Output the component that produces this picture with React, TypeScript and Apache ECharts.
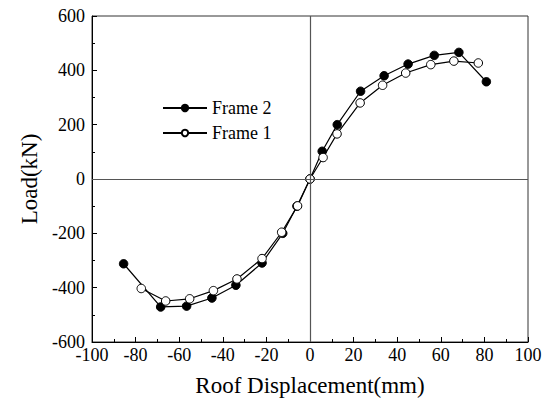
import React, { useEffect, useRef } from "react";
import * as echarts from "echarts";

// Roof displacement (mm) vs. load (kN) for the two frames
const frame2Disp = [-85.5, -68.5, -56.6, -45, -34, -22, -12.5, -6, 0, 5.6, 12.5, 23.2, 34, 45, 57, 68.3, 80.9];
const frame2Load = [-312, -471, -468, -438, -391, -309, -200, -100, 0, 102, 200, 323, 380, 423, 455, 466, 358];

const frame1Disp = [-77.4, -66.2, -55.2, -44.3, -33.5, -22, -13, -5.7, 0, 6, 12.4, 23, 33.3, 43.9, 55.4, 66, 77.2];
const frame1Load = [-403, -449, -441, -411, -368, -293, -196, -99, 0, 79, 166, 280, 345, 390, 421, 434, 427];

const xTicks = { min: -100, max: 100, interval: 20 };
const yTicks = { min: -600, max: 600, interval: 200 };

const FONT = "Liberation Serif";

const pairs = (xs: number[], ys: number[]) => xs.map((x, i) => [x, ys[i]]);

export default function App() {
  const ref = useRef<HTMLDivElement>(null);

  useEffect(() => {
    if (!ref.current) return;
    const chart = echarts.init(ref.current, undefined, { renderer: "svg" });
    chart.setOption({
      animation: false,
      backgroundColor: "#fff",
      textStyle: { fontFamily: FONT },
      grid: {
        left: 92,
        right: 23,
        top: 16,
        bottom: 60,
        outerBoundsMode: "none",
        show: true,
        borderColor: "#333",
        borderWidth: 1,
      },
      legend: {
        orient: "vertical",
        left: 157,
        top: 94,
        itemWidth: 44,
        itemHeight: 8,
        itemGap: 7,
        textStyle: { color: "#000", fontFamily: FONT, fontSize: 18 },
        data: ["Frame 2", "Frame 1"],
      },
      xAxis: {
        type: "value",
        min: xTicks.min,
        max: xTicks.max,
        interval: xTicks.interval,
        axisLine: { show: true, onZero: false, lineStyle: { color: "#000", width: 1 } },
        axisTick: { show: true, inside: true, length: 5, lineStyle: { color: "#000" } },
        minorTick: { show: true, splitNumber: 2, length: 3, lineStyle: { color: "#000" } },
        splitLine: { show: false },
        axisLabel: { color: "#000", fontFamily: FONT, fontSize: 18, margin: 4 },
        name: "Roof Displacement(mm)",
        nameLocation: "middle",
        nameGap: 32,
        nameTextStyle: { color: "#000", fontFamily: FONT, fontSize: 23 },
      },
      yAxis: {
        type: "value",
        min: yTicks.min,
        max: yTicks.max,
        interval: yTicks.interval,
        axisLine: { show: true, onZero: false, lineStyle: { color: "#000", width: 1 } },
        axisTick: { show: true, inside: true, length: 5, lineStyle: { color: "#000" } },
        minorTick: { show: true, splitNumber: 2, length: 3, lineStyle: { color: "#000" } },
        splitLine: { show: false },
        axisLabel: { color: "#000", fontFamily: FONT, fontSize: 18, margin: 7 },
        name: "Load(kN)",
        nameLocation: "middle",
        nameGap: 50,
        nameTextStyle: { color: "#000", fontFamily: FONT, fontSize: 23 },
      },
      series: [
        {
          name: "Frame 2",
          type: "line",
          data: pairs(frame2Disp, frame2Load),
          symbol: "circle",
          symbolSize: 8.5,
          lineStyle: { color: "#000", width: 1.2 },
          itemStyle: { color: "#000", borderColor: "#000", borderWidth: 1 },
          z: 3,
          markLine: {
            silent: true,
            symbol: "none",
            label: { show: false },
            lineStyle: { color: "#555", type: "solid", width: 1.2 },
            data: [{ xAxis: 0 }, { yAxis: 0 }],
          },
        },
        {
          name: "Frame 1",
          type: "line",
          data: pairs(frame1Disp, frame1Load),
          symbol: "circle",
          symbolSize: 8.5,
          lineStyle: { color: "#000", width: 1.2 },
          itemStyle: { color: "#fff", borderColor: "#000", borderWidth: 1 },
          z: 4,
        },
      ],
    });
    return () => chart.dispose();
  }, []);

  return <div ref={ref} style={{ width: 551, height: 402, position: "absolute", left: 0, top: 0 }} />;
}
